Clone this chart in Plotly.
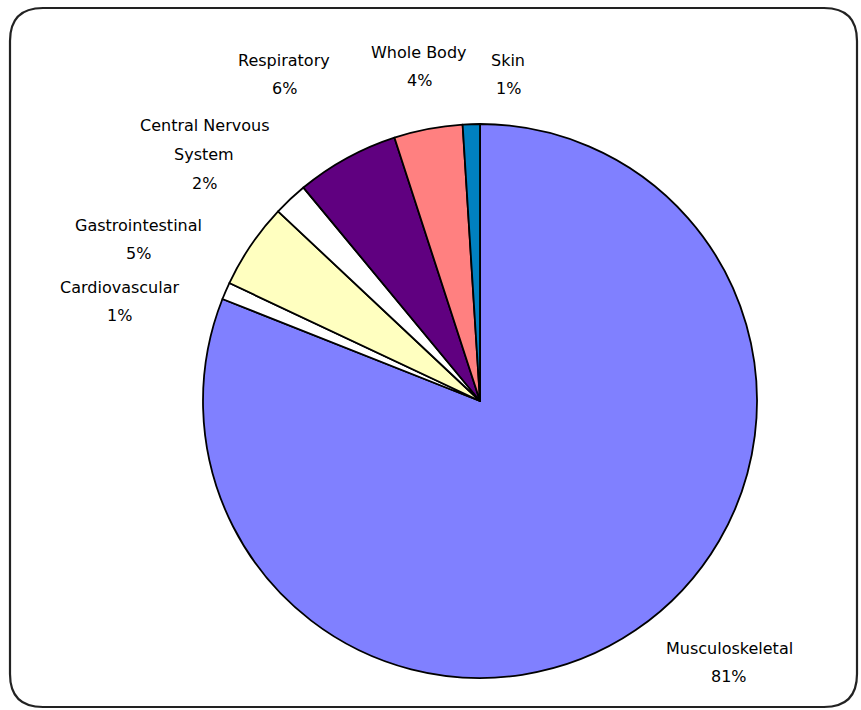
import plotly.graph_objects as go

# Share of cases by body system
categories = ["Musculoskeletal", "Cardiovascular", "Gastrointestinal",
              "Central Nervous System", "Respiratory", "Whole Body", "Skin"]
percentages = [81, 1, 5, 2, 6, 4, 1]

# Slice fills
colors = ["#8080FF", "#FFFFFF", "#FFFFC0", "#FFFFFF", "#600080", "#FF8080", "#0080C0"]

# How long names wrap in their labels
wrapped = {"Central Nervous System": ["Central Nervous", "System"]}

# Label anchors (pixel x-centre, pixel y of first line)
label_pos = {
    "Musculoskeletal": (729, 648),
    "Cardiovascular": (119, 287),
    "Gastrointestinal": (138, 225),
    "Central Nervous System": (204, 126),
    "Respiratory": (284, 60),
    "Whole Body": (419, 52),
    "Skin": (508, 60),
}

W, H = 861, 710
LINE_STEP = 28.5
cx, cy, r = 480, 401, 277


def px(x):
    return x / W


def py(y):
    return 1 - y / H


fig = go.Figure(go.Pie(
    labels=categories,
    values=percentages,
    sort=False,
    direction="clockwise",
    rotation=0,
    textinfo="none",
    hoverinfo="label+percent",
    marker=dict(colors=colors, line=dict(color="#000000", width=1.8)),
    domain=dict(x=[px(cx - r), px(cx + r)], y=[py(cy + r), py(cy - r)]),
    showlegend=False,
))

annotations = []
for name, val in zip(categories, percentages):
    lines = wrapped.get(name, [name]) + [f"{val}%"]
    x0, y0 = label_pos[name]
    for i, line in enumerate(lines):
        annotations.append(dict(
            text=line, x=px(x0), y=py(y0 + i * LINE_STEP),
            xref="paper", yref="paper", xanchor="center", yanchor="middle",
            showarrow=False,
            font=dict(family="DejaVu Sans", size=16, color="#000000"),
        ))

# Rounded frame around the chart
L, T, R, B, rc = 10, 8, 857, 707, 33
frame = (
    f"M {px(L + rc)},{py(T)} L {px(R - rc)},{py(T)} "
    f"Q {px(R)},{py(T)} {px(R)},{py(T + rc)} "
    f"L {px(R)},{py(B - rc)} Q {px(R)},{py(B)} {px(R - rc)},{py(B)} "
    f"L {px(L + rc)},{py(B)} Q {px(L)},{py(B)} {px(L)},{py(B - rc)} "
    f"L {px(L)},{py(T + rc)} Q {px(L)},{py(T)} {px(L + rc)},{py(T)} Z"
)

fig.update_layout(
    width=W, height=H,
    margin=dict(l=0, r=0, t=0, b=0),
    paper_bgcolor="#FFFFFF",
    plot_bgcolor="#FFFFFF",
    annotations=annotations,
    shapes=[dict(type="path", path=frame, xref="paper", yref="paper",
                 line=dict(color="#222222", width=2.2))],
)

fig.write_html("out.html")
